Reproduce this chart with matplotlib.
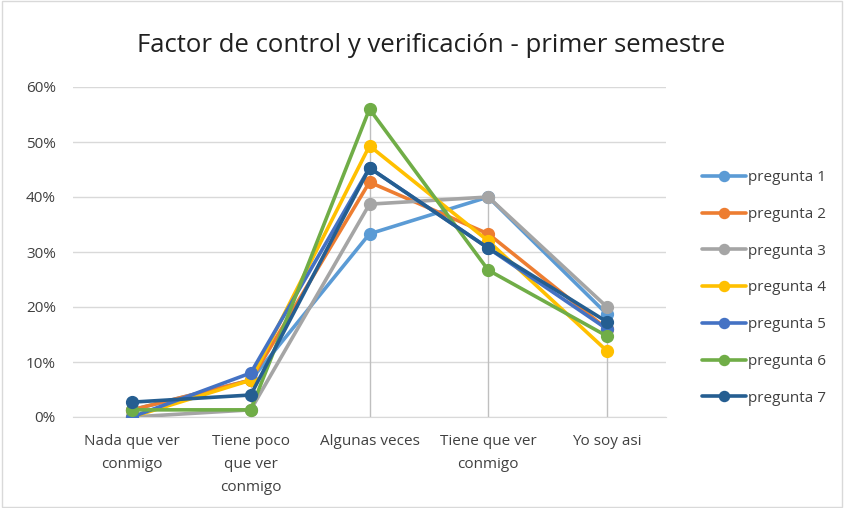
import matplotlib.pyplot as plt
from matplotlib.patches import Rectangle

categorias = ["Nada que ver\nconmigo", "Tiene poco\nque ver\nconmigo", "Algunas veces",
              "Tiene que ver\nconmigo", "Yo soy asi"]
series = ["pregunta 1", "pregunta 2", "pregunta 3", "pregunta 4",
          "pregunta 5", "pregunta 6", "pregunta 7"]
pregunta_1 = [1.3, 6.7, 33.3, 40.0, 18.7]
pregunta_2 = [1.3, 6.7, 42.7, 33.3, 16.0]
pregunta_3 = [0.0, 1.3, 38.7, 40.0, 20.0]
pregunta_4 = [0.0, 6.7, 49.3, 32.0, 12.0]
pregunta_5 = [0.0, 8.0, 45.3, 30.7, 16.0]
pregunta_6 = [1.3, 1.3, 56.0, 26.7, 14.7]
pregunta_7 = [2.7, 4.0, 45.3, 30.7, 17.3]
valores = [pregunta_1, pregunta_2, pregunta_3, pregunta_4, pregunta_5, pregunta_6, pregunta_7]
colores = ["#5B9BD5", "#ED7D31", "#A5A5A5", "#FFC000", "#4472C4", "#70AD47", "#255E91"]

plt.rcParams['font.family'] = ['Open Sans', 'DejaVu Sans']

fig = plt.figure(figsize=(8.44, 5.08), dpi=100)
# marco del grafico
fig.patches.append(Rectangle((0.002, 0.002), 0.996, 0.996, transform=fig.transFigure,
                             fill=False, edgecolor="#D9D9D9", linewidth=1))

W, H = 844, 508
ax = fig.add_axes([72.6 / W, 1 - 417 / H, (666.4 - 72.6) / W, (417 - 87) / H])

x = list(range(len(categorias)))

# lineas de caida (del eje al valor maximo)
maximos = [max(v[i] for v in valores) for i in x]
ax.vlines(x, 0, maximos, color="#BFBFBF", linewidth=1, zorder=1)

for nombre, vals, c in zip(series, valores, colores):
    ax.plot(x, vals, color=c, linewidth=2.6, marker="o", markersize=8.5,
            label=nombre, zorder=3, solid_capstyle="round")

ax.set_xlim(-0.5, len(categorias) - 0.5)
ax.set_ylim(0, 60)
ax.set_yticks(range(0, 61, 10))
ax.set_yticklabels([f"{t}%" for t in range(0, 61, 10)])
ax.set_xticks(x)
ax.set_xticklabels(categorias, va="top", linespacing=1.75)
ax.grid(axis="y", color="#D9D9D9", linewidth=1)
ax.set_axisbelow(True)
for s in ["top", "right", "left"]:
    ax.spines[s].set_visible(False)
ax.spines["bottom"].set_color("#D9D9D9")
ax.tick_params(axis="both", length=0, labelsize=11, labelcolor="#404040")
ax.tick_params(axis="x", pad=12)
ax.tick_params(axis="y", pad=12)

fig.text(431 / W, 1 - 45 / H, "Factor de control y verificación - primer semestre",
         ha="center", va="center", fontsize=18.5, color="#202020")

leg = ax.legend(loc="center left", bbox_to_anchor=(688 / W, 1 - 288 / H),
                bbox_transform=fig.transFigure, frameon=False, fontsize=11,
                labelspacing=1.42, handlelength=2.9, handletextpad=0.1,
                markerscale=0.85)
for t in leg.get_texts():
    t.set_color("#404040")

fig.savefig("out.png", dpi=100)
